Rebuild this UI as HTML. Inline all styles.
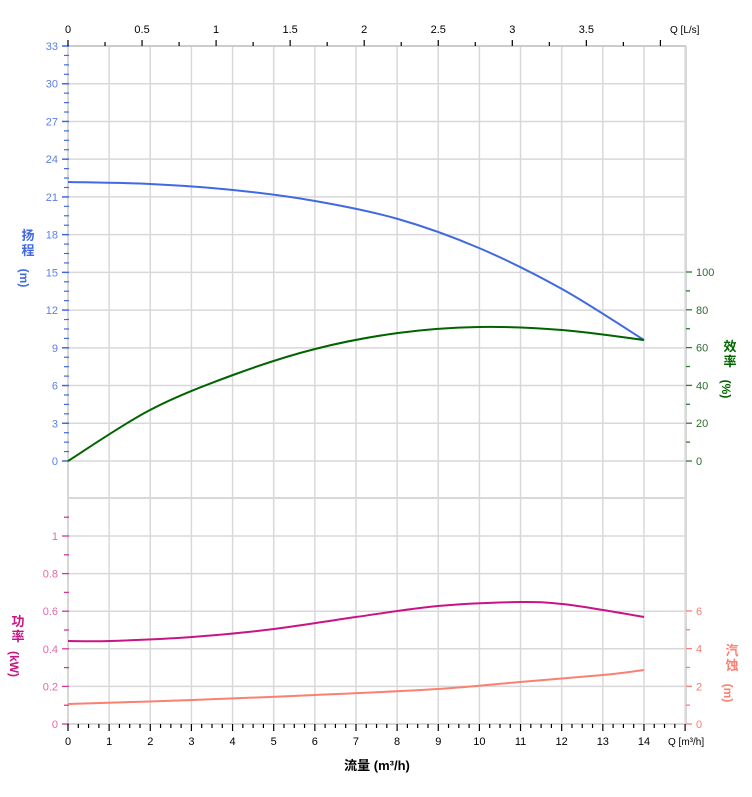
<!DOCTYPE html>
<html><head><meta charset="utf-8"><style>
body{margin:0;background:#fff;}
svg{display:block;font-family:"Liberation Sans","Noto Sans CJK SC",sans-serif;}
</style></head><body>
<svg id="s" width="752" height="797" viewBox="0 0 752 797" xmlns="http://www.w3.org/2000/svg">
<g id="grid"></g>
<g id="axes"></g>
<g id="curves" fill="none" stroke-width="2"></g>
<text x="28" y="240" fill="#4169e1" font-size="13" font-weight="bold" text-anchor="middle">扬</text>
<text x="28" y="255" fill="#4169e1" font-size="13" font-weight="bold" text-anchor="middle">程</text>
<text x="28" y="278" fill="#4169e1" font-size="12" font-weight="bold" text-anchor="middle" transform="rotate(90 24 274)">(m)</text>
<text x="730" y="351" fill="#006400" font-size="13" font-weight="bold" text-anchor="middle">效</text>
<text x="730" y="366" fill="#006400" font-size="13" font-weight="bold" text-anchor="middle">率</text>
<text x="730" y="389" fill="#006400" font-size="12" font-weight="bold" text-anchor="middle" transform="rotate(90 726 385)">(%)</text>
<text x="18" y="626" fill="#c71585" font-size="13" font-weight="bold" text-anchor="middle">功</text>
<text x="18" y="641" fill="#c71585" font-size="13" font-weight="bold" text-anchor="middle">率</text>
<text x="18" y="664" fill="#c71585" font-size="12" font-weight="bold" text-anchor="middle" transform="rotate(90 14 660)">(kW)</text>
<text x="732" y="655" fill="#fa8072" font-size="13" font-weight="bold" text-anchor="middle">汽</text>
<text x="732" y="670" fill="#fa8072" font-size="13" font-weight="bold" text-anchor="middle">蚀</text>
<text x="732" y="693" fill="#fa8072" font-size="12" font-weight="bold" text-anchor="middle" transform="rotate(90 728 689)">(m)</text>
<text x="377" y="770" font-size="13" font-weight="bold" text-anchor="middle" fill="#000">流量 (m³/h)</text>
<text x="668" y="745" font-size="10" fill="#000">Q [m³/h]</text>
<text x="670" y="33" font-size="10" fill="#000">Q [L/s]</text>
</svg>
<script>
const NS="http://www.w3.org/2000/svg";
function el(p,t,a,txt){const e=document.createElementNS(NS,t);for(const k in a)e.setAttribute(k,a[k]);if(txt!==undefined)e.textContent=txt;document.getElementById(p).appendChild(e);return e;}
const X0=68,XU=41.14,R=686;
const gx=v=>X0+v*XU;
// vertical grid
for(let i=1;i<=15;i++)el('grid','line',{x1:gx(i),x2:gx(i),y1:46,y2:724,stroke:'#d8d8d8','stroke-width':1.5});
// upper horizontal grid
const hy=v=>461-v*(415/33);
for(let v=0;v<=33;v+=3)el('grid','line',{x1:X0,x2:R,y1:hy(v),y2:hy(v),stroke:'#d8d8d8','stroke-width':1.5});
el('grid','line',{x1:X0,x2:R,y1:498,y2:498,stroke:'#d8d8d8','stroke-width':2});
const py=v=>724-v*188;
for(let v=0.2;v<=1.01;v+=0.2)el('grid','line',{x1:X0,x2:R,y1:py(v),y2:py(v),stroke:'#d8d8d8','stroke-width':1.5});
el('grid','line',{x1:X0,x2:R,y1:724,y2:724,stroke:'#d8d8d8','stroke-width':2});
el('grid','line',{x1:R,x2:R,y1:46,y2:724,stroke:'#d8d8d8','stroke-width':2});
el('grid','line',{x1:X0,x2:R,y1:46,y2:46,stroke:'#ccc','stroke-width':2});
el('grid','line',{x1:X0,x2:X0,y1:46,y2:724,stroke:'#ccc','stroke-width':1.5});
// left head axis
for(let v=0;v<=33;v+=0.75){const y=hy(v);const maj=Math.abs(v%3)<1e-6;el('axes','line',{x1:maj?62:64,x2:69,y1:y,y2:y,stroke:'#4169e1','stroke-width':maj?1.5:1.2});}
for(let v=0;v<=33;v+=3)el('axes','text',{x:58,y:hy(v)+4,'font-size':11,fill:'#5b7fe8','text-anchor':'end'},v);
// lower power axis
for(let v=0;v<=1.1;v+=0.1){const y=py(v);const maj=Math.round(v*10)%2==0;if(y<500)continue;el('axes','line',{x1:maj?62:64,x2:69,y1:y,y2:y,stroke:'#d0389a','stroke-width':1.3});}
[0,0.2,0.4,0.6,0.8,1].forEach(v=>el('axes','text',{x:58,y:py(v)+4,'font-size':11,fill:'#e06aa8','text-anchor':'end'},v));
// right eff axis
const ey=v=>461-v*1.89;
for(let v=0;v<=100;v+=10){const maj=v%20==0;el('axes','line',{x1:686,x2:maj?692:690,y1:ey(v),y2:ey(v),stroke:'#2e7d2e','stroke-width':1.3});}
for(let v=0;v<=100;v+=20)el('axes','text',{x:696,y:ey(v)+4,'font-size':11,fill:'#2e6b2e'},v);
// right npsh axis
const ny=v=>724-v*18.85;
for(let v=0;v<=6;v+=1){const maj=v%2==0;el('axes','line',{x1:686,x2:maj?692:690,y1:ny(v),y2:ny(v),stroke:'#fa8072','stroke-width':1.3});}
for(let v=0;v<=6;v+=2)el('axes','text',{x:696,y:ny(v)+4,'font-size':11,fill:'#f08070'},v);
// bottom axis
for(let v=0;v<=15;v+=0.25){const x=gx(v);const maj=Math.abs(v%1)<1e-6;el('axes','line',{x1:x,x2:x,y1:724,y2:maj?731:728,stroke:'#000','stroke-width':1.2});}
for(let v=0;v<=14;v++)el('axes','text',{x:gx(v),y:745,'font-size':11,fill:'#000','text-anchor':'middle'},v);
// top axis
const tx=v=>X0+v*148.1;
for(let v=0;v<=4.15;v+=0.25){const x=tx(v);if(x>R)break;const maj=Math.abs((v*2)%1)<1e-6;el('axes','line',{x1:x,x2:x,y1:maj?40:42,y2:46,stroke:'#000','stroke-width':1.2});}
[0,0.5,1,1.5,2,2.5,3,3.5].forEach(v=>el('axes','text',{x:tx(v),y:33,'font-size':11,fill:'#000','text-anchor':'middle'},v));
// curves
function cr(pts){let d='M'+pts[0][0]+','+pts[0][1];for(let i=0;i<pts.length-1;i++){const p0=pts[i-1]||pts[i],p1=pts[i],p2=pts[i+1],p3=pts[i+2]||p2;d+=' C'+(p1[0]+(p2[0]-p0[0])/6)+','+(p1[1]+(p2[1]-p0[1])/6)+' '+(p2[0]-(p3[0]-p1[0])/6)+','+(p2[1]-(p3[1]-p1[1])/6)+' '+p2[0]+','+p2[1];}return d;}
el('curves','path',{d:cr([[68,182],[150,184],[233,190],[315,201],[398,219],[479,248],[562,289],[644,340]]),stroke:'#4169e1'});
el('curves','path',{d:cr([[68,461],[150,410],[233,375],[315,349],[398,333],[479,327],[562,330],[644,340]]),stroke:'#006400'});
el('curves','path',{d:cr([[68,641],[110,641],[192,637],[274,629],[356,617],[438,606],[520,602],[562,604],[603,610],[644,617]]),stroke:'#c71585'});
el('curves','path',{d:cr([[68,704],[192,700],[315,695],[438,689],[520,682],[603,675],[644,670]]),stroke:'#fa8072'});
</script>
</body></html>
